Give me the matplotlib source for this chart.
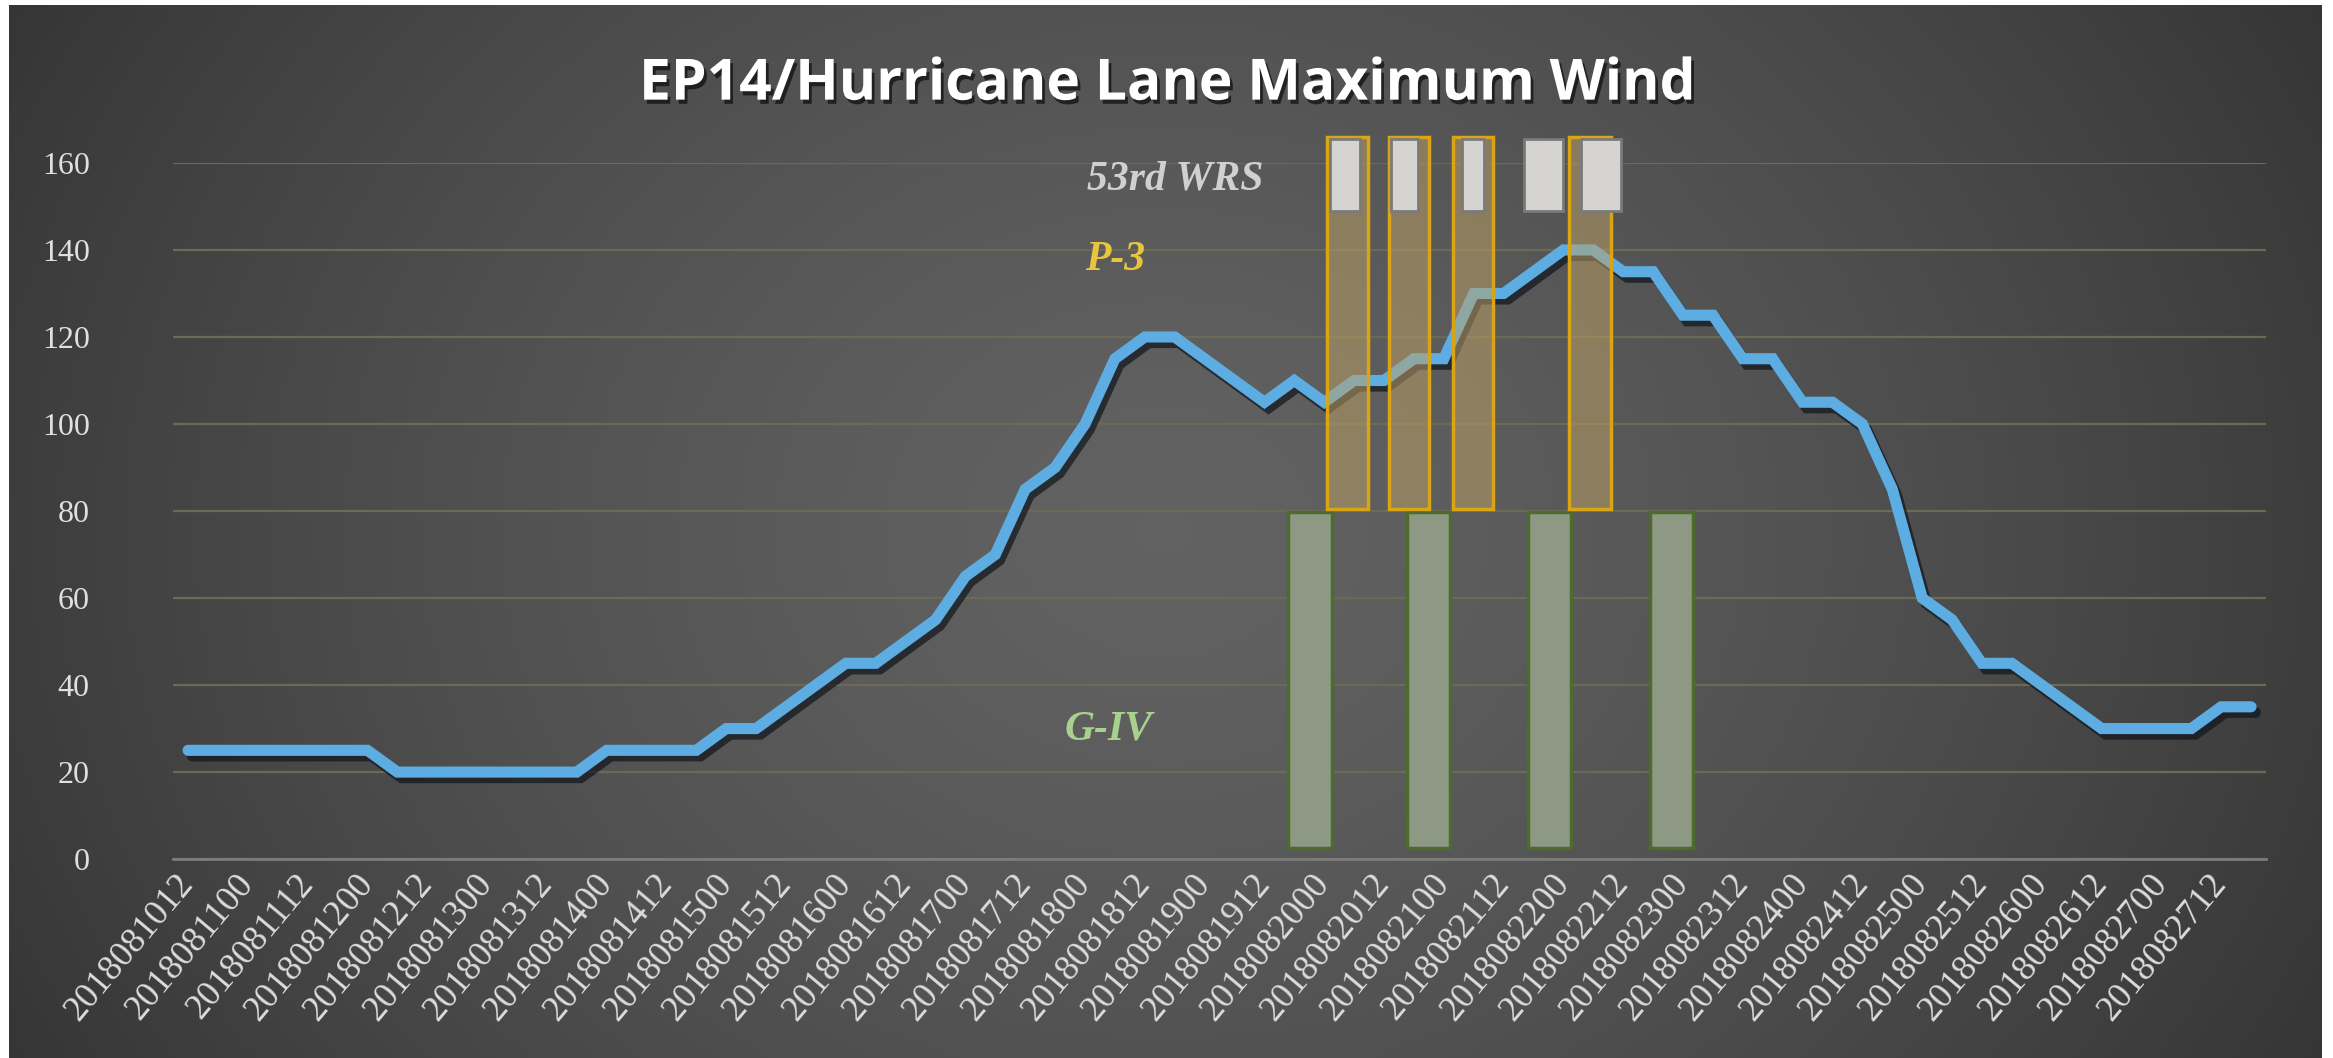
import numpy as np
import matplotlib
matplotlib.use('Agg')
import matplotlib.pyplot as plt
import matplotlib.patheffects as pe

# EP14 Lane, 6-hourly maximum wind (kt), 2018081012 .. 2018082718
wind = [25, 25, 25, 25, 25, 25, 25,
        20, 20, 20, 20, 20, 20, 20,
        25, 25, 25, 25,
        30, 30, 35, 40, 45, 45, 50, 55, 65, 70, 85, 90, 100, 115, 120, 120,
        115, 110, 105, 110, 105, 110, 110, 115, 115, 130, 130, 135, 140, 140,
        135, 135, 125, 125, 115, 115, 105, 105, 100, 85, 60, 55, 45, 45, 40, 35,
        30, 30, 30, 30, 35, 35]

tick_labels = ['2018081012', '2018081100', '2018081112', '2018081200', '2018081212',
               '2018081300', '2018081312', '2018081400', '2018081412', '2018081500',
               '2018081512', '2018081600', '2018081612', '2018081700', '2018081712',
               '2018081800', '2018081812', '2018081900', '2018081912', '2018082000',
               '2018082012', '2018082100', '2018082112', '2018082200', '2018082212',
               '2018082300', '2018082312', '2018082400', '2018082412', '2018082500',
               '2018082512', '2018082600', '2018082612', '2018082700', '2018082712']

# recon flight windows, in 6-hour steps from the first point
g4_start = [36.8, 40.76, 44.8, 48.9]
g4_end = [38.25, 42.2, 46.26, 50.33]
p3_start = [38.1, 40.15, 42.3, 46.2]
p3_end = [39.45, 41.5, 43.65, 47.6]
wrs_start = [38.2, 40.25, 42.6, 44.67, 46.6]
wrs_end = [39.2, 41.15, 43.35, 46.0, 47.93]

fig = plt.figure(figsize=(23.33, 10.58), dpi=100, facecolor='white')

# dark radial background
bg = fig.add_axes([0.004, 0.0, 0.991, 0.995], zorder=-10)
xx, yy = np.meshgrid(np.linspace(-1, 1, 500), np.linspace(-1, 1, 250))
r = np.sqrt(xx ** 2 + 0.3 * yy ** 2) / np.sqrt(1.3)
v = 0.385 - 0.175 * np.clip(r, 0, 1) ** 1.4
bg.imshow(np.dstack([v, v, v]), aspect='auto', extent=[0, 1, 0, 1])
bg.set_axis_off()

ax = fig.add_axes([0.0742, 0.188, 0.8971, 0.658])
ax.set_facecolor('none')

x = np.arange(len(wind))
ax.plot(x, wind, color='#5dade2', lw=8, solid_capstyle='round',
        solid_joinstyle='miter', zorder=3,
        path_effects=[pe.SimpleLineShadow(offset=(3, -4), shadow_color='#10161c', alpha=0.7),
                      pe.Normal()])

g4_s = np.array(g4_start)
g4_e = np.array(g4_end)
ax.bar(g4_s, 79.8 - 2.5, width=g4_e - g4_s, bottom=2.5, align='edge',
       color='#8d9984', edgecolor='#4c6b2c', linewidth=2.5, zorder=4, clip_on=False)

p3_s = np.array(p3_start)
p3_e = np.array(p3_end)
ax.bar(p3_s, 166 - 80.5, width=p3_e - p3_s, bottom=80.5, align='edge',
       color=(0.76, 0.64, 0.40, 0.5), edgecolor='#d9a514', linewidth=2.5, zorder=5, clip_on=False)

wrs_s = np.array(wrs_start)
wrs_e = np.array(wrs_end)
ax.bar(wrs_s, 165.5 - 149, width=wrs_e - wrs_s, bottom=149, align='edge',
       color='#d6d4d1', edgecolor='#7a7a7a', linewidth=2, zorder=6, clip_on=False)

lab = dict(family='Liberation Serif', style='italic', weight='bold', fontsize=30,
           ha='center', va='center', zorder=7)
ax.text(33.0, 156.3, '53rd WRS', color='#d0d0d0', **lab)
ax.text(31.0, 137.7, 'P-3', color='#e8c440', **lab)
ax.text(30.8, 29.9, 'G-IV', color='#a9d18e', **lab)

ax.set_xlim(-0.5, len(wind) - 0.5)
ax.set_ylim(0, 160)
ax.set_yticks(range(0, 161, 20))
ax.set_xticks(range(0, len(wind), 2))
ax.set_xticklabels(tick_labels, rotation=50, ha='right', va='center', rotation_mode='anchor')
ax.tick_params(axis='y', length=0, pad=60, labelsize=23, labelcolor='#e0e0e0')
ax.tick_params(axis='x', length=0, pad=14, labelsize=26, labelcolor='#dcdcdc')
for t in ax.get_xticklabels() + ax.get_yticklabels():
    t.set_family('Liberation Serif')

ax.yaxis.grid(True, color='#6c6a55', lw=1.6)
ax.set_axisbelow(True)
for s in ['top', 'right', 'left']:
    ax.spines[s].set_visible(False)
ax.spines['bottom'].set_color('#7c7c7c')
ax.spines['bottom'].set_linewidth(2)

fig.text(0.5006, 0.92, 'EP14/Hurricane Lane Maximum Wind', color='white',
         fontsize=41, weight='bold', family='Open Sans', ha='center', va='center',
         path_effects=[pe.withSimplePatchShadow(offset=(2, -3), shadow_rgbFace='black', alpha=0.6)])

fig.savefig('out.png', dpi=100, facecolor='white')
